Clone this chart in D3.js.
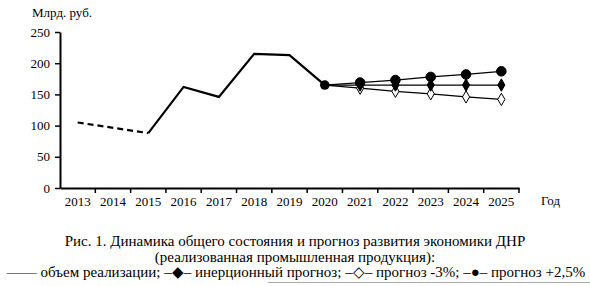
<!DOCTYPE html>
<html>
<head>
<meta charset="utf-8">
<script src="https://cdn.jsdelivr.net/npm/d3@7"></script>
<style>
  body { margin: 0; background: #fff; }
</style>
</head>
<body>
<div id="chart"></div>
<script>
const years = ["2013", "2014", "2015", "2016", "2017", "2018", "2019", "2020", "2021", "2022", "2023", "2024", "2025"];
const yTicks = [0, 50, 100, 150, 200, 250];

// fact, dashed part (no 2014 value)
const factDashed = [{ year: "2013", value: 105 }, { year: "2015", value: 88 }];
const factYears = ["2015", "2016", "2017", "2018", "2019", "2020"];
const factValues = [88, 162, 146, 215, 213, 165];

const forecastYears = ["2020", "2021", "2022", "2023", "2024", "2025"];
const inertial = [165, 165, 165, 165, 165, 165];
const minus3 = [165, 160, 155, 151, 146, 142];
const plus25 = [165, 169, 173, 178, 182, 187];

const captionLines = [
  "Рис. 1. Динамика общего состояния и прогноз развития экономики ДНР",
  "(реализованная промышленная продукция):",
  "—— объем реализации; –◆– инерционный прогноз; –◇–  прогноз -3%; –●– прогноз +2,5%"
];

const FONT = "Liberation Serif";
const W = 590, H = 286;
const margin = { left: 60, top: 32, right: 71, bottom: 98 };
const width = W - margin.left - margin.right;
const height = H - margin.top - margin.bottom;

const svg = d3.select("#chart").append("svg")
  .attr("width", W)
  .attr("height", H);

const g = svg.append("g")
  .attr("transform", `translate(${margin.left},${margin.top})`);

const x = d3.scaleBand().domain(years).range([0, width]);
const y = d3.scaleLinear().domain([0, 250]).range([height, 0]);
const cx = (yr) => x(yr) + x.bandwidth() / 2;

// Axes
const yAxis = g.append("g")
  .call(d3.axisLeft(y).tickValues(yTicks).tickSize(5).tickSizeOuter(0));
yAxis.select(".domain").attr("stroke-width", 2);
yAxis.selectAll(".tick line").attr("stroke-width", 1.5);
yAxis.selectAll(".tick text")
  .attr("x", -10)
  .attr("font-family", FONT)
  .attr("font-size", 13);

const xAxis = g.append("g")
  .attr("transform", `translate(0,${height})`)
  .call(d3.axisBottom(x).tickSize(0).tickSizeOuter(0));
xAxis.select(".domain").attr("stroke-width", 2);
xAxis.selectAll(".tick text")
  .attr("dy", "0")
  .attr("y", 18)
  .attr("font-family", FONT)
  .attr("font-size", 13);

// band boundary ticks
g.append("g").selectAll("line")
  .data(years.slice(1).concat(["end"]))
  .enter().append("line")
  .attr("x1", (d) => d === "end" ? width : x(d))
  .attr("x2", (d) => d === "end" ? width : x(d))
  .attr("y1", height)
  .attr("y2", height + 5)
  .attr("stroke", "#000")
  .attr("stroke-width", 1.5);

// Axis titles
svg.append("text")
  .attr("x", 32)
  .attr("y", 17)
  .attr("font-family", FONT)
  .attr("font-size", 13)
  .text("Млрд. руб.");

svg.append("text")
  .attr("x", 541)
  .attr("y", 205)
  .attr("font-family", FONT)
  .attr("font-size", 13)
  .text("Год");

const line = d3.line().x((d) => cx(d.year)).y((d) => y(d.value));
const zip = (ys, vs) => ys.map((yr, i) => ({ year: yr, value: vs[i] }));

// Fact line
g.append("path")
  .datum(factDashed)
  .attr("d", line)
  .attr("fill", "none")
  .attr("stroke", "#000")
  .attr("stroke-width", 2.2)
  .attr("stroke-dasharray", "6,4");

g.append("path")
  .datum(zip(factYears, factValues))
  .attr("d", line)
  .attr("fill", "none")
  .attr("stroke", "#000")
  .attr("stroke-width", 2.2)
  .attr("stroke-linejoin", "miter");

// Forecasts
const series = [
  { values: minus3, marker: "diamond", fill: "#fff", size: 44 },
  { values: inertial, marker: "diamond", fill: "#000", size: 44 },
  { values: plus25, marker: "circle", fill: "#000", size: 72 }
];

series.forEach((s) => {
  const pts = zip(forecastYears, s.values);
  g.append("path")
    .datum(pts)
    .attr("d", line)
    .attr("fill", "none")
    .attr("stroke", "#000")
    .attr("stroke-width", 1.3);

  const sym = d3.symbol()
    .type(s.marker === "circle" ? d3.symbolCircle : d3.symbolDiamond)
    .size(s.size);

  g.selectAll(null)
    .data(pts.slice(1))
    .enter().append("path")
    .attr("d", sym)
    .attr("transform", (d) => `translate(${cx(d.year)},${y(d.value)})`)
    .attr("fill", s.fill)
    .attr("stroke", "#000")
    .attr("stroke-width", 1);
});

// 2020 starting point
g.append("circle")
  .attr("cx", cx("2020"))
  .attr("cy", y(165))
  .attr("r", 4.8)
  .attr("fill", "#000");

// Caption
captionLines.forEach((t, i) => {
  svg.append("text")
    .attr("x", i === 2 ? 296 : 295)
    .attr("y", 246 + i * 15.5)
    .attr("text-anchor", "middle")
    .attr("font-family", FONT)
    .attr("font-size", 15)
    .text(t);
});

svg.append("line")
  .attr("x1", 268)
  .attr("x2", 590)
  .attr("y1", 282.5)
  .attr("y2", 282.5)
  .attr("stroke", "#aaa")
  .attr("stroke-width", 1);
</script>
</body>
</html>
